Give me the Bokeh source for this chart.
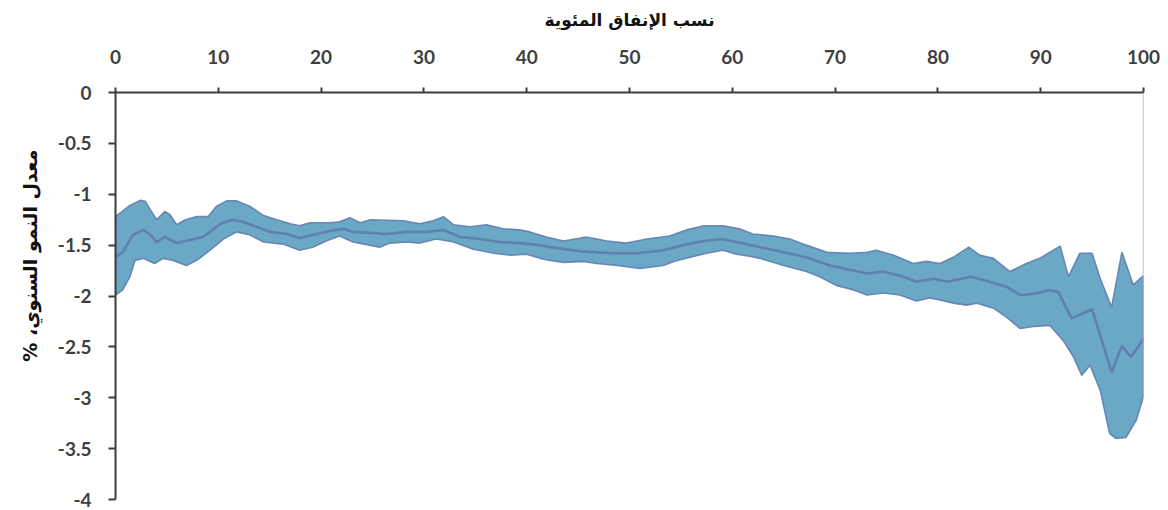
from bokeh.plotting import figure
from bokeh.models import Range1d, FixedTicker, Title
from bokeh.embed import file_html
from bokeh.resources import INLINE

# Spending percentile (x) and annual growth rate, % (y): upper bound, central estimate, lower bound
x_upper = [0, 1.4, 2.4, 2.9, 3.5, 4.0, 4.8, 5.3, 5.95, 6.8, 7.9, 9.0, 9.8, 10.8, 11.8, 13.1,
           14.4, 15.7, 17.0, 17.9, 18.9, 20.9, 21.8, 22.8, 23.8, 24.8, 28.0, 29.6, 30.9, 31.9,
           32.9, 34.5, 36.1, 37.7, 39.3, 40.3, 41.9, 43.6, 45.8, 47.8, 49.7, 51.7, 53.9, 55.6,
           57.2, 59.1, 60.7, 62.0, 64.0, 65.6, 67.2, 69.2, 71.4, 73.1, 74.0, 75.7, 77.6, 78.9,
           80.2, 81.5, 83.0, 84.1, 85.4, 87.0, 88.6, 89.9, 90.9, 91.9, 92.7, 93.8, 95.0, 95.8,
           96.9, 97.9, 99.0, 100]
upper = [-1.22, -1.11, -1.06, -1.07, -1.17, -1.25, -1.17, -1.20, -1.30, -1.25, -1.22, -1.22,
         -1.12, -1.065, -1.065, -1.12, -1.21, -1.25, -1.29, -1.31, -1.28, -1.28, -1.27, -1.23,
         -1.28, -1.25, -1.26, -1.29, -1.26, -1.22, -1.30, -1.32, -1.30, -1.34, -1.35, -1.37,
         -1.42, -1.46, -1.42, -1.46, -1.48, -1.44, -1.41, -1.35, -1.31, -1.31, -1.34, -1.39,
         -1.41, -1.44, -1.50, -1.57, -1.58, -1.57, -1.55, -1.60, -1.68, -1.66, -1.68, -1.62,
         -1.52, -1.60, -1.63, -1.76, -1.68, -1.63, -1.57, -1.51, -1.81, -1.58, -1.58, -1.83,
         -2.11, -1.57, -1.89, -1.80]

x_mid = [0, 0.7, 1.7, 2.7, 3.4, 4.0, 4.8, 5.95, 7.25, 8.5, 9.2, 10.2, 11.4, 12.4, 13.7, 15.0,
         16.7, 17.9, 19.6, 20.9, 22.2, 23.1, 24.8, 26.4, 28.3, 30.3, 31.9, 33.5, 35.5, 37.4,
         39.3, 41.3, 42.3, 45.2, 48.4, 50.7, 53.3, 55.2, 57.2, 59.1, 60.4, 62.7, 65.0, 67.2,
         69.5, 71.8, 73.1, 74.7, 76.3, 77.9, 79.6, 80.9, 83.2, 84.7, 86.7, 88.0, 89.3, 90.9,
         91.7, 93.0, 95.0, 96.9, 97.9, 98.8, 100]
mid = [-1.62, -1.57, -1.40, -1.35, -1.40, -1.47, -1.42, -1.48, -1.45, -1.42, -1.37, -1.29,
       -1.25, -1.27, -1.32, -1.37, -1.39, -1.43, -1.39, -1.36, -1.34, -1.37, -1.38, -1.39,
       -1.37, -1.37, -1.35, -1.42, -1.44, -1.47, -1.48, -1.50, -1.52, -1.56, -1.58, -1.58,
       -1.55, -1.50, -1.46, -1.44, -1.47, -1.52, -1.57, -1.62, -1.70, -1.75, -1.78, -1.76,
       -1.80, -1.86, -1.83, -1.86, -1.81, -1.85, -1.91, -1.99, -1.98, -1.94, -1.96, -2.22,
       -2.13, -2.75, -2.49, -2.60, -2.42]

x_lower = [0, 0.7, 1.4, 1.9, 2.7, 3.8, 4.65, 5.6, 6.9, 7.9, 9.2, 10.5, 11.8, 13.1, 14.4, 16.3,
           17.9, 19.2, 20.5, 21.8, 23.1, 25.7, 26.7, 28.3, 29.6, 31.2, 32.9, 34.8, 36.8, 38.4,
           40.0, 41.3, 42.3, 43.6, 45.5, 46.8, 48.8, 51.0, 53.3, 54.3, 55.9, 57.5, 59.1, 60.4,
           61.7, 62.7, 65.0, 67.2, 68.5, 70.2, 71.8, 73.1, 74.7, 76.3, 77.9, 79.2, 80.2, 81.5,
           82.8, 83.8, 85.4, 86.7, 88.0, 89.3, 90.9, 92.2, 93.2, 94.0, 94.8, 95.8, 96.7, 97.3,
           98.3, 99.3, 100]
lower = [-1.99, -1.94, -1.81, -1.65, -1.63, -1.68, -1.63, -1.65, -1.70, -1.65, -1.55, -1.44,
         -1.37, -1.40, -1.47, -1.49, -1.55, -1.52, -1.46, -1.41, -1.47, -1.52, -1.48, -1.47,
         -1.48, -1.44, -1.47, -1.54, -1.58, -1.60, -1.59, -1.63, -1.65, -1.67, -1.66, -1.68,
         -1.70, -1.73, -1.70, -1.66, -1.62, -1.58, -1.55, -1.59, -1.61, -1.63, -1.70, -1.76,
         -1.81, -1.90, -1.94, -1.99, -1.97, -1.99, -2.05, -2.02, -2.04, -2.07, -2.09, -2.07,
         -2.12, -2.21, -2.32, -2.30, -2.29, -2.44, -2.60, -2.78, -2.68, -2.93, -3.35, -3.40,
         -3.39, -3.22, -2.99]

x_ticks = [0, 10, 20, 30, 40, 50, 60, 70, 80, 90, 100]
y_ticks = [0, -0.5, -1, -1.5, -2, -2.5, -3, -3.5, -4]
y_tick_labels = ["0", "-0.5", "-1", "-1.5", "-2", "-2.5", "-3", "-3.5", "-4"]

x_title = "نسب الإنفاق المئوية"
# trailing right-to-left mark keeps the "%" at the end of the Arabic phrase
y_title = "معدل النمو السنوي، %\u200f"

band_fill = "#6aa8c6"
band_edge = "#6080ad"
axis_color = "#3c3c3c"
label_color = "#3f3f3f"

p = figure(width=1168, height=510,
           x_range=Range1d(0, 100), y_range=Range1d(-4, 0),
           x_axis_location="above", y_axis_location="left",
           output_backend="svg", toolbar_location=None,
           min_border_left=115, min_border_right=25,
           min_border_top=92, min_border_bottom=11)

p.outline_line_color = None
p.xgrid.visible = False
p.ygrid.visible = False
p.background_fill_color = "white"
p.border_fill_color = "white"

# confidence band as one closed polygon: upper edge left->right, lower edge right->left
band_x = x_upper + x_lower[::-1]
band_y = upper + lower[::-1]
p.patch(band_x, band_y, fill_color=band_fill, fill_alpha=1.0,
        line_color=band_edge, line_width=1.6, line_alpha=0.9)

# central estimate
p.line(x_mid, mid, line_color=band_edge, line_width=2.6)

# thin marker line at the last percentile
p.segment(x0=[x_upper[-1]], y0=[y_ticks[0]], x1=[x_upper[-1]], y1=[lower[-1]],
          line_color="#a9aac8", line_width=1.5)

xa = p.xaxis[0]
xa.ticker = FixedTicker(ticks=x_ticks)
xa.minor_tick_line_color = None
xa.major_tick_in = 0
xa.major_tick_out = 5
xa.major_tick_line_width = 2
xa.major_tick_line_color = axis_color
xa.axis_line_color = axis_color
xa.axis_line_width = 2
xa.major_label_text_font = "Lato"
xa.major_label_text_font_style = "bold"
xa.major_label_text_font_size = "19px"
xa.major_label_text_color = label_color
xa.major_label_standoff = 24
xa.axis_label = x_title
xa.axis_label_text_font = "DejaVu Sans"
xa.axis_label_text_font_style = "bold"
xa.axis_label_text_font_size = "17px"
xa.axis_label_text_color = "#111111"
xa.axis_label_standoff = 17

ya = p.yaxis[0]
ya.ticker = FixedTicker(ticks=y_ticks)
ya.major_label_overrides = {t: s for t, s in zip(y_ticks, y_tick_labels)}
ya.minor_tick_line_color = None
ya.major_tick_in = 0
ya.major_tick_out = 7
ya.major_tick_line_width = 2
ya.major_tick_line_color = axis_color
ya.axis_line_color = axis_color
ya.axis_line_width = 2
ya.major_label_text_font = "Lato"
ya.major_label_text_font_style = "bold"
ya.major_label_text_font_size = "19px"
ya.major_label_text_color = label_color
ya.major_label_standoff = 17

# vertical y-axis title to the left of the tick labels, anchored near the top
p.add_layout(Title(text=y_title, align="right", offset=57, standoff=28,
                   text_font="DejaVu Sans", text_font_style="bold",
                   text_font_size="19px", text_color="#111111"), "left")

open("out.html", "w").write(file_html(p, INLINE))
